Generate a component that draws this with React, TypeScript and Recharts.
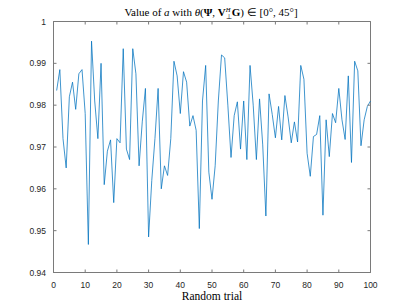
import React from 'react';
import { LineChart, Line, XAxis, YAxis, ReferenceArea, ReferenceDot } from 'recharts';

// value of a for each random trial (1..100)
const aValues = [
  0.9835, 0.9885, 0.972, 0.965, 0.982, 0.9855, 0.979, 0.9875, 0.9885, 0.978,
  0.9467, 0.9953, 0.981, 0.972, 0.990, 0.961, 0.969, 0.9717, 0.9567, 0.972,
  0.971, 0.9935, 0.9695, 0.967, 0.9935, 0.9875, 0.9655, 0.976, 0.984, 0.9485,
  0.962, 0.972, 0.984, 0.960, 0.9655, 0.9632, 0.972, 0.9905, 0.987, 0.978,
  0.988, 0.9855, 0.975, 0.9775, 0.974, 0.9505, 0.981, 0.9895, 0.964, 0.9575,
  0.9655, 0.981, 0.992, 0.9913, 0.980, 0.9675, 0.9775, 0.9808, 0.9695, 0.981,
  0.967, 0.9895, 0.980, 0.967, 0.9815, 0.9705, 0.9535, 0.9827, 0.9778, 0.9722,
  0.9797, 0.9717, 0.9823, 0.9772, 0.971, 0.976, 0.9712, 0.9895, 0.9862, 0.9685,
  0.963, 0.9725, 0.973, 0.9775, 0.9537, 0.9765, 0.9677, 0.978, 0.9758, 0.984,
  0.9765, 0.9718, 0.987, 0.9663, 0.9905, 0.9882, 0.9703, 0.9765, 0.9797, 0.981,
];

const xTicks = [0, 10, 20, 30, 40, 50, 60, 70, 80, 90, 100];
const yTicks = [0.94, 0.95, 0.96, 0.97, 0.98, 0.99, 1.0];

const data = aValues.map((a, i) => ({ trial: i + 1, a }));

const axisColor = '#262626';
const boxColor = '#7a7a7a';
const tickStyle = { fontSize: 8.5, fill: axisColor, fontFamily: '"Liberation Sans", Arial, sans-serif' };
const serif = '"Liberation Serif", "Times New Roman", serif';

const fmtY = (v: number) => String(parseFloat(v.toFixed(2)));

// inward tick marks for the top and right sides of the box
const TopTick = (p: any) => (
  <line x1={p.cx} y1={p.cy} x2={p.cx} y2={p.cy + 3} stroke={boxColor} strokeWidth={1} />
);
const RightTick = (p: any) => (
  <line x1={p.cx} y1={p.cy} x2={p.cx - 3} y2={p.cy} stroke={boxColor} strokeWidth={1} />
);

export default function App() {
  return (
    <div style={{ position: 'absolute', left: 0, top: 0, width: 409, height: 307, background: '#fff' }}>
      <LineChart
        width={409}
        height={307}
        data={data}
        margin={{ top: 21.5, right: 38.5, left: 13.5, bottom: 0.5 }}
      >
        <XAxis
          dataKey="trial"
          type="number"
          domain={[0, 100]}
          ticks={xTicks}
          height={34}
          tickSize={-3}
          tickMargin={12}
          tick={tickStyle}
          stroke={boxColor}
          strokeWidth={1}
        />
        <YAxis
          type="number"
          domain={[0.94, 1]}
          ticks={yTicks}
          width={40}
          tickSize={-3}
          tickMargin={10.5}
          tick={tickStyle}
          tickFormatter={fmtY}
          stroke={boxColor}
          strokeWidth={1}
        />
        <ReferenceArea
          x1={0}
          x2={100}
          y1={0.94}
          y2={1}
          fill="#ffffff"
          fillOpacity={0}
          stroke={boxColor}
          strokeWidth={1}
          strokeOpacity={1}
          ifOverflow="visible"
        />
        {xTicks.map((t) => (
          <ReferenceDot key={'tx' + t} x={t} y={1} shape={TopTick} ifOverflow="visible" />
        ))}
        {yTicks.map((t) => (
          <ReferenceDot key={'ty' + t} x={100} y={t} shape={RightTick} ifOverflow="visible" />
        ))}
        <Line
          type="linear"
          dataKey="a"
          stroke="#0072BD"
          strokeWidth={0.75}
          dot={false}
          isAnimationActive={false}
        />
      </LineChart>
      <div
        style={{
          position: 'absolute', left: 0, width: 422, top: 5, textAlign: 'center',
          fontFamily: serif, fontSize: 11, color: '#000', whiteSpace: 'nowrap', lineHeight: '14px',
        }}
      >
        Value of <i>a</i> with <i>θ</i>(<b>Ψ</b>, <b>V</b>
        <span style={{ display: 'inline-block', verticalAlign: 'middle', fontSize: 6.5, lineHeight: '7px', textAlign: 'left' }}>
          <i>H</i><br />⊥
        </span>
        <b>G</b>) ∈ [0°, 45°]
      </div>
      <div
        style={{
          position: 'absolute', left: 0, width: 424, top: 289, textAlign: 'center',
          fontFamily: serif, fontSize: 11.5, color: '#000', whiteSpace: 'nowrap', lineHeight: '14px',
        }}
      >
        Random trial
      </div>
    </div>
  );
}
